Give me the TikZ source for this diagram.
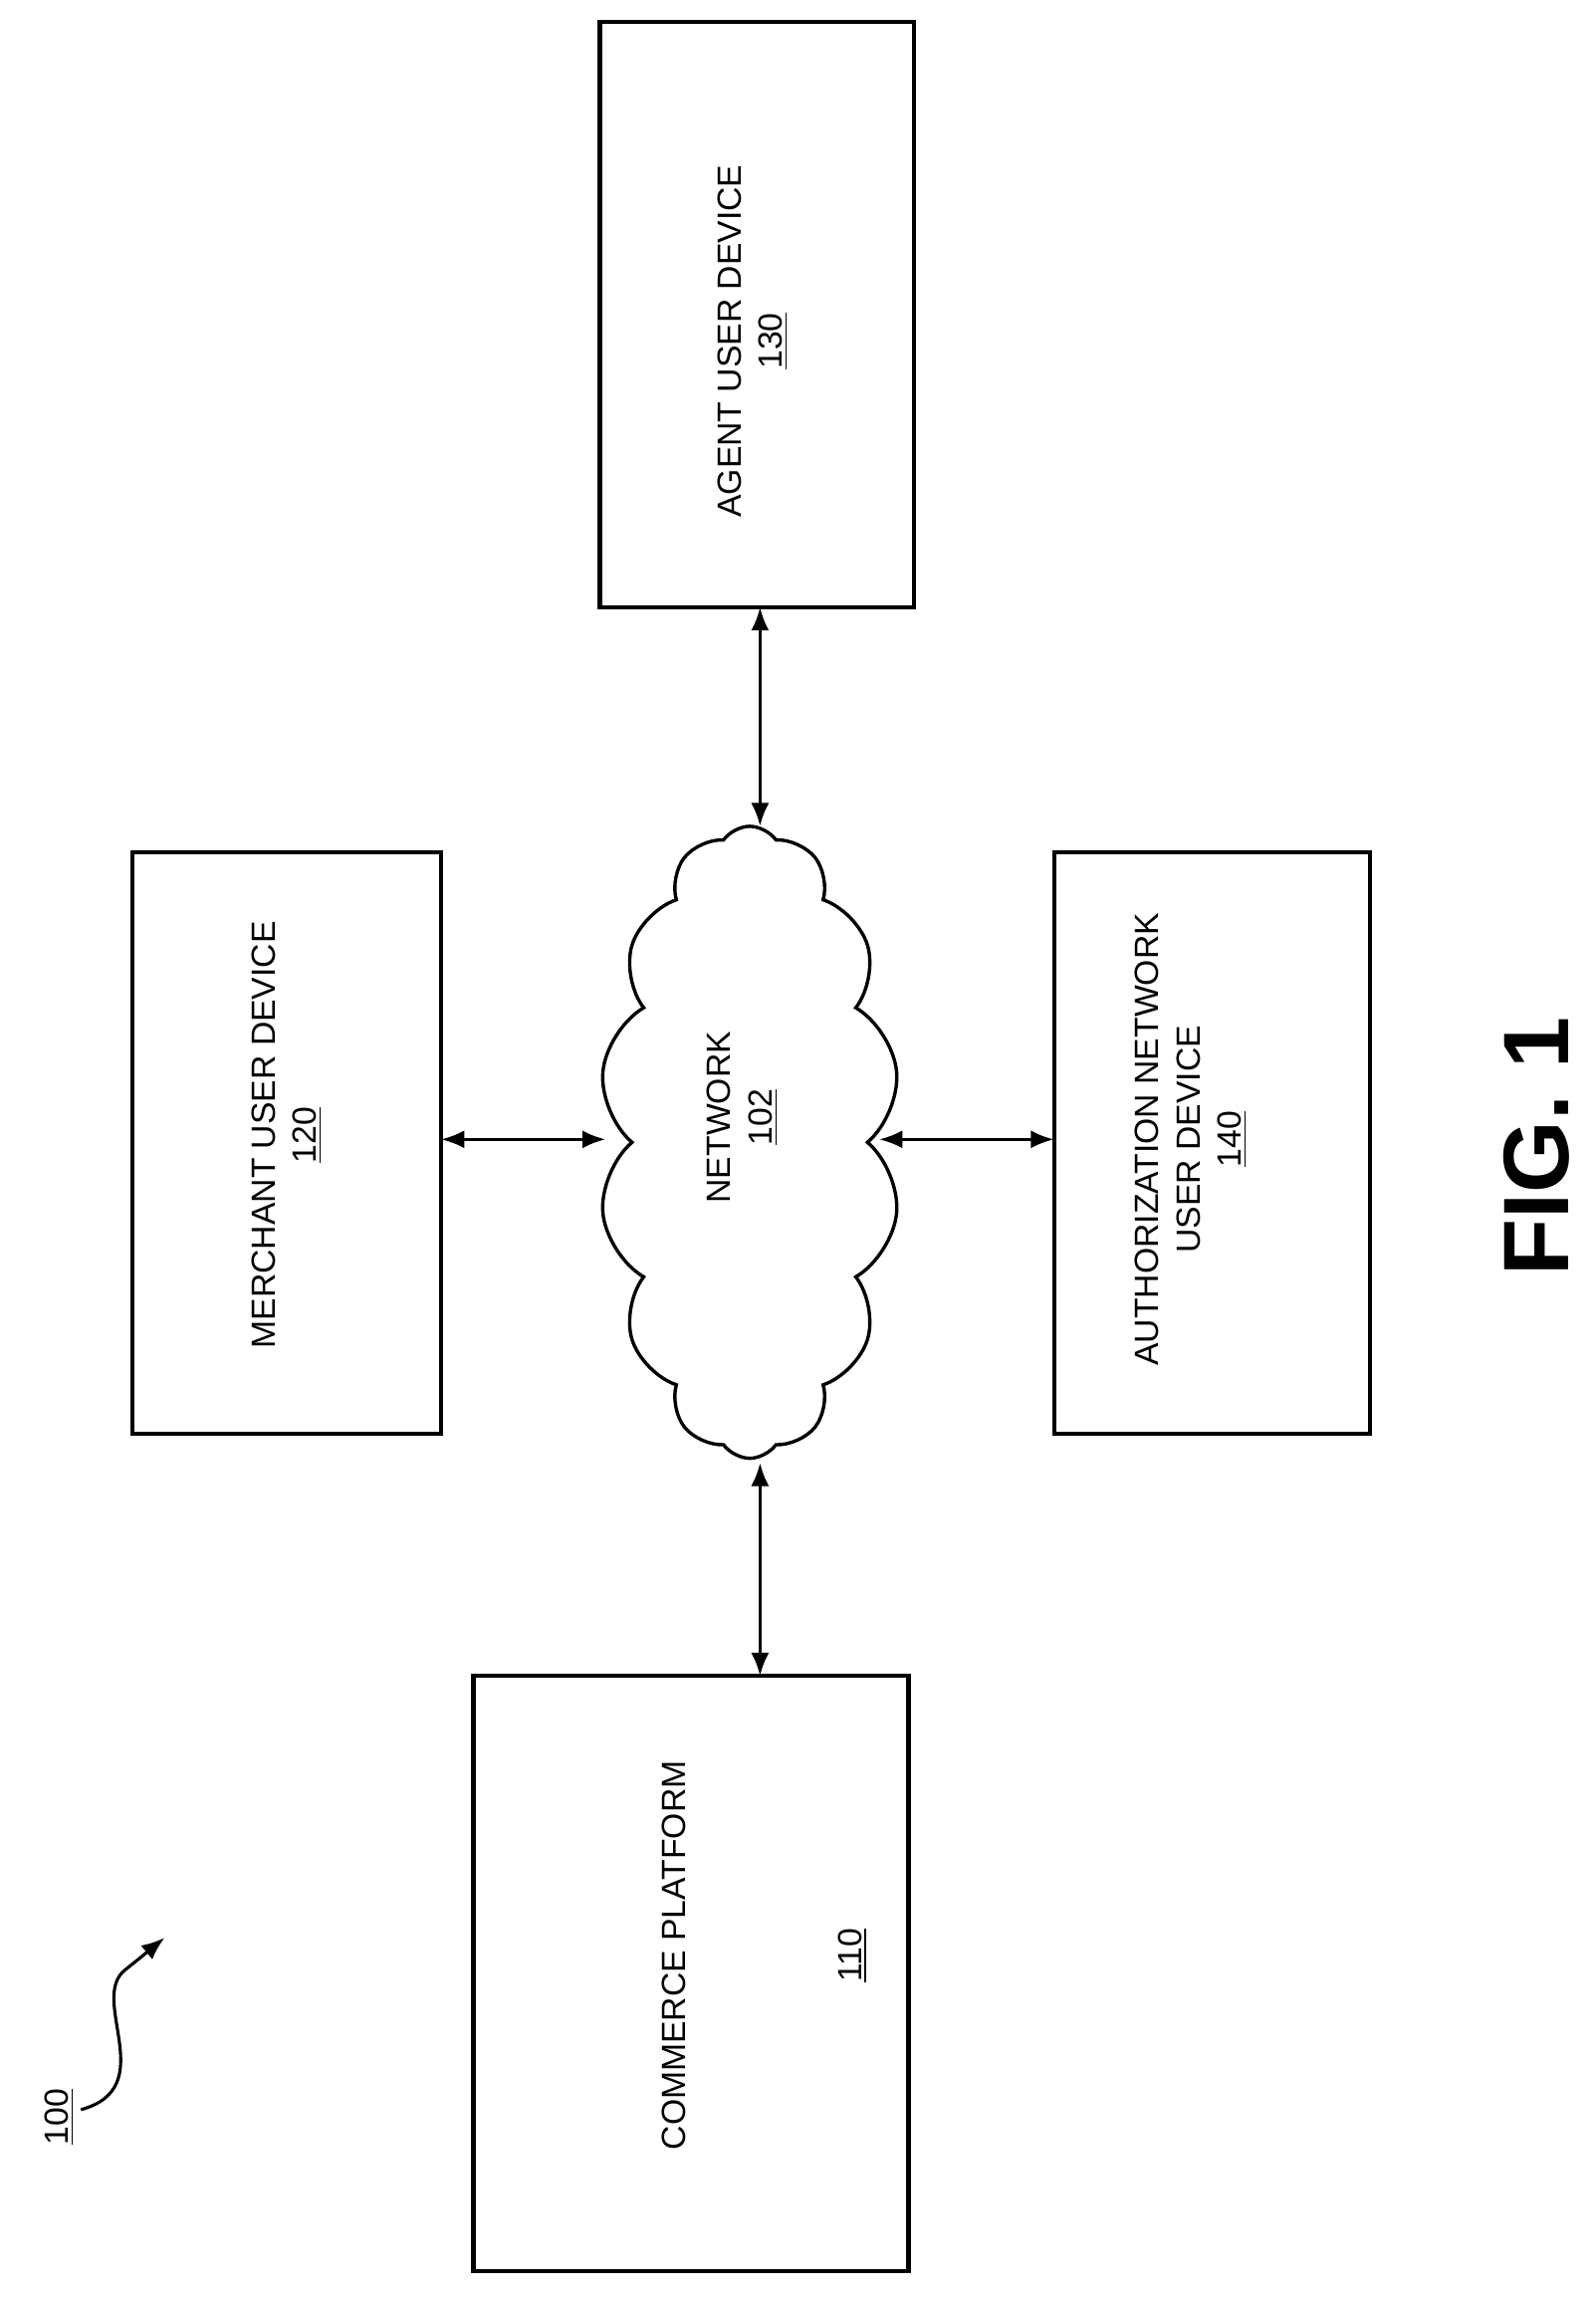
\documentclass[tikz,border=0pt]{standalone}
\usepackage{fontspec}
\setmainfont{Liberation Sans}
\usetikzlibrary{shapes.symbols,arrows.meta,decorations.pathmorphing}
\begin{document}
\begin{tikzpicture}[x=0.02cm,y=-0.02cm,
  box/.style={draw,line width=1.6pt},
  lbl/.style={rotate=90,align=center,font=\fontsize{13}{16}\selectfont},
  con/.style={line width=1.3pt,{Latex[length=9pt,width=7pt]}-{Latex[length=9pt,width=7pt]}}]
\useasboundingbox (0,0) rectangle (1085,1563.8);
\draw[box] (408,15) rectangle (622,413);
\node[lbl] (agent) at (512,232) {AGENT USER DEVICE\\\underline{130}};
\draw[box] (90,580) rectangle (300,975);
\node[lbl] (merch) at (195,772) {MERCHANT USER DEVICE\\\underline{120}};
\draw[box] (717,580) rectangle (932,975);
\node[lbl] (auth) at (810,775) {AUTHORIZATION NETWORK\\USER DEVICE\\\underline{140}};
\draw[box] (322,1140) rectangle (618,1545);
\node[lbl] (comm) at (520,1330) {COMMERCE PLATFORM\\[52pt]\underline{110}};
\node[draw,line width=1.3pt,cloud,cloud puffs=14,cloud puff arc=110,aspect=0.45,minimum width=4.1cm,minimum height=8.6cm,inner sep=0pt] (net) at (510,777) {};
\node[lbl] at (505,760) {NETWORK\\\underline{102}};
\coordinate (a1) at (517,413); \coordinate (a2) at (517,562);
\draw[con] (a1) -- (a2);
\coordinate (m1) at (300,775); \coordinate (m2) at (412,775);
\draw[con] (m1) -- (m2);
\coordinate (n1) at (598,775); \coordinate (n2) at (717,775);
\draw[con] (n1) -- (n2);
\coordinate (c1) at (517,995); \coordinate (c2) at (517,1140);
\draw[con] (c1) -- (c2);
\node[rotate=90,font=\bfseries\fontsize{36}{40}\selectfont] (fig) at (1045,780) {FIG. 1};
\node[lbl] (n100) at (40,1440) {\underline{100}};
\coordinate (s1) at (55,1435); \coordinate (s2) at (112,1318);
\draw[line width=1.2pt,-{Latex[length=9pt,width=7pt]}] (s1) .. controls (110,1420) and (60,1360) .. (85,1340) .. controls (95,1332) .. (s2);
\end{tikzpicture}
\end{document}
